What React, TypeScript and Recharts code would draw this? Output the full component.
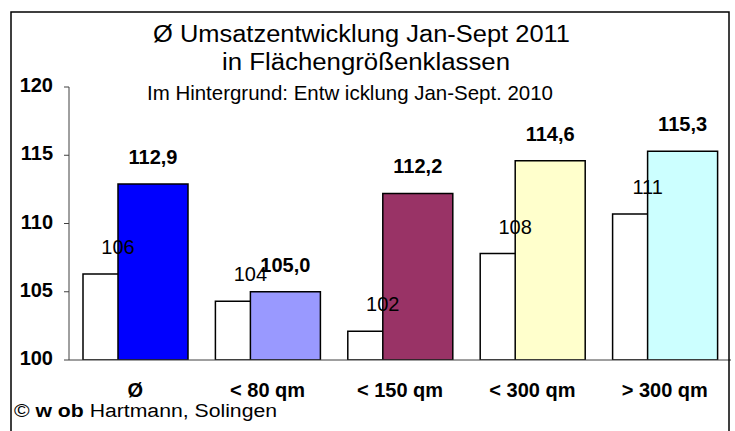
import React from 'react';
import { BarChart, Bar, XAxis, YAxis, Cell, LabelList } from 'recharts';

const categories = ['Ø', '< 80 qm', '< 150 qm', '< 300 qm', '> 300 qm'];
const values2010 = [106.3, 104.3, 102.1, 107.8, 110.7];
const values2011 = [112.9, 105.0, 112.2, 114.6, 115.3];
const colors2011 = ['#0000FF', '#9999FF', '#993366', '#FFFFCC', '#CCFFFF'];
const yTicks = [100, 105, 110, 115, 120];
const boundaryTicks = [0, 1, 2, 3, 4, 5];
const titleLines = [
  'Ø Umsatzentwicklung Jan-Sept 2011',
  'in Flächengrößenklassen',
  'Im Hintergrund: Entw icklung Jan-Sept. 2010',
];

const data = categories.map((c, i) => ({ category: c, v2010: values2010[i], v2011: values2011[i] }));

const FONT = "'Liberation Sans', Arial, sans-serif";

const YTick = (props: any) => {
  const { x, y, payload } = props;
  return (
    <text x={x} y={y} dy={5} textAnchor="end" fontFamily={FONT} fontWeight="bold" fontSize={20} fill="#000">
      {payload.value}
    </text>
  );
};

const XTick = (props: any) => {
  const { x, y, payload } = props;
  return (
    <text x={x} y={y} dy={32} textAnchor="middle" fontFamily={FONT} fontWeight="bold" fontSize={20} fill="#000">
      {payload.value}
    </text>
  );
};

export default function App() {
  return (
    <div style={{ position: 'absolute', left: 0, top: 0, width: 735, height: 431, background: '#fff', overflow: 'hidden' }}>
      <BarChart
        width={735}
        height={431}
        data={data}
        margin={{ top: 87, right: 4, left: 9, bottom: 31 }}
        barSize={70}
        barGap={-35}
        barCategoryGap={0}
      >
        <XAxis
          xAxisId="bounds"
          type="number"
          domain={[0, 5]}
          ticks={boundaryTicks}
          tick={false}
          axisLine={false}
          tickLine={{ stroke: '#404040', strokeWidth: 1 }}
          tickSize={5}
          height={0}
        />
        <XAxis
          xAxisId="cat"
          dataKey="category"
          tickLine={false}
          axisLine={{ stroke: '#404040', strokeWidth: 1 }}
          tick={<XTick />}
          tickSize={5}
          tickMargin={0}
          height={40}
          interval={0}
        />
        <YAxis
          domain={[100, 120]}
          ticks={yTicks}
          allowDataOverflow
          axisLine={{ stroke: '#404040', strokeWidth: 1 }}
          tickLine={{ stroke: '#404040', strokeWidth: 1 }}
          tickSize={5}
          tickMargin={11}
          tick={<YTick />}
          width={60}
        />
        <Bar xAxisId="cat" dataKey="v2010" fill="#FFFFFF" stroke="#000" strokeWidth={1.5} isAnimationActive={false}>
          <LabelList
            dataKey="v2010"
            position="top"
            offset={20}
            formatter={(v: any) => String(Math.round(Number(v)))}
            style={{ fontFamily: FONT, fontSize: 20, fill: '#000' }}
          />
        </Bar>
        <Bar xAxisId="cat" dataKey="v2011" stroke="#000" strokeWidth={1.5} isAnimationActive={false}>
          {data.map((d, i) => (
            <Cell key={d.category} fill={colors2011[i]} />
          ))}
          <LabelList
            dataKey="v2011"
            position="top"
            offset={20}
            formatter={(v: any) => Number(v).toFixed(1).replace('.', ',')}
            style={{ fontFamily: FONT, fontSize: 20, fontWeight: 'bold', fill: '#000' }}
          />
        </Bar>
      </BarChart>
      <svg width={735} height={431} style={{ position: 'absolute', left: 0, top: 0, pointerEvents: 'none' }}>
        <rect x={11} y={12} width={718} height={440} fill="none" stroke="#000" strokeWidth={1.5} />
        <text x={361.5} y={41.7} textAnchor="middle" fontFamily={FONT} fontSize={23} textLength={417} lengthAdjust="spacingAndGlyphs" fill="#000">
          {titleLines[0]}
        </text>
        <text x={366} y={70} textAnchor="middle" fontFamily={FONT} fontSize={23} textLength={288} lengthAdjust="spacingAndGlyphs" fill="#000">
          {titleLines[1]}
        </text>
        <text x={350} y={100} textAnchor="middle" fontFamily={FONT} fontSize={21} textLength={406} lengthAdjust="spacingAndGlyphs" fill="#000">
          {titleLines[2]}
        </text>
        <text x={14} y={417} fontFamily={FONT} fontSize={18} textLength={263} lengthAdjust="spacingAndGlyphs" fill="#000">
          <tspan>© </tspan>
          <tspan fontWeight="bold">w ob</tspan>
          <tspan> Hartmann, Solingen</tspan>
        </text>
      </svg>
    </div>
  );
}
